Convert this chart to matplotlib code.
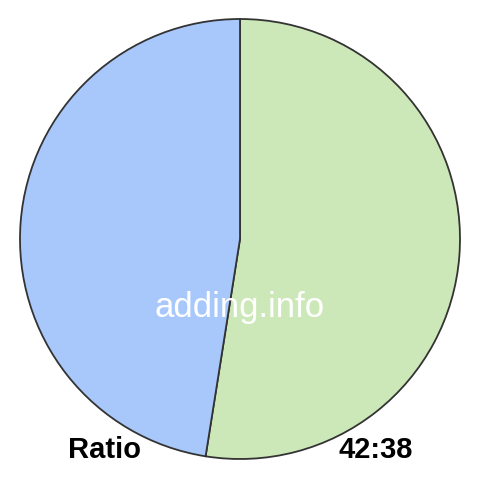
import matplotlib
matplotlib.use('Agg')
import matplotlib.pyplot as plt

# Ratio values
labels = ['42', '38']
values = [42, 38]
colors = ['#cde8b8', '#a8c8fc']

fig = plt.figure(figsize=(4.8, 4.8), dpi=100)
ax = fig.add_axes([0, 0, 1, 1])

ax.pie(values, colors=colors, startangle=90, counterclock=False,
       center=(240, 241), radius=220,
       wedgeprops=dict(edgecolor='#333333', linewidth=1.3))

ax.set_xlim(0, 480)
ax.set_ylim(0, 480)
ax.set_aspect('equal')
ax.axis('off')

ax.text(240, 172, 'adding.info', color='white', fontsize=25,
        family='Liberation Sans', ha='center', va='center')
ax.text(68, 30, 'Ratio', color='black', fontsize=21, fontweight='bold',
        family='Liberation Sans', ha='left', va='center')
ax.text(413, 30, f'{values[0]}:{values[1]}', color='black', fontsize=21,
        fontweight='bold', family='Liberation Sans', ha='right', va='center')

fig.savefig('out.png', dpi=100, facecolor='white')
